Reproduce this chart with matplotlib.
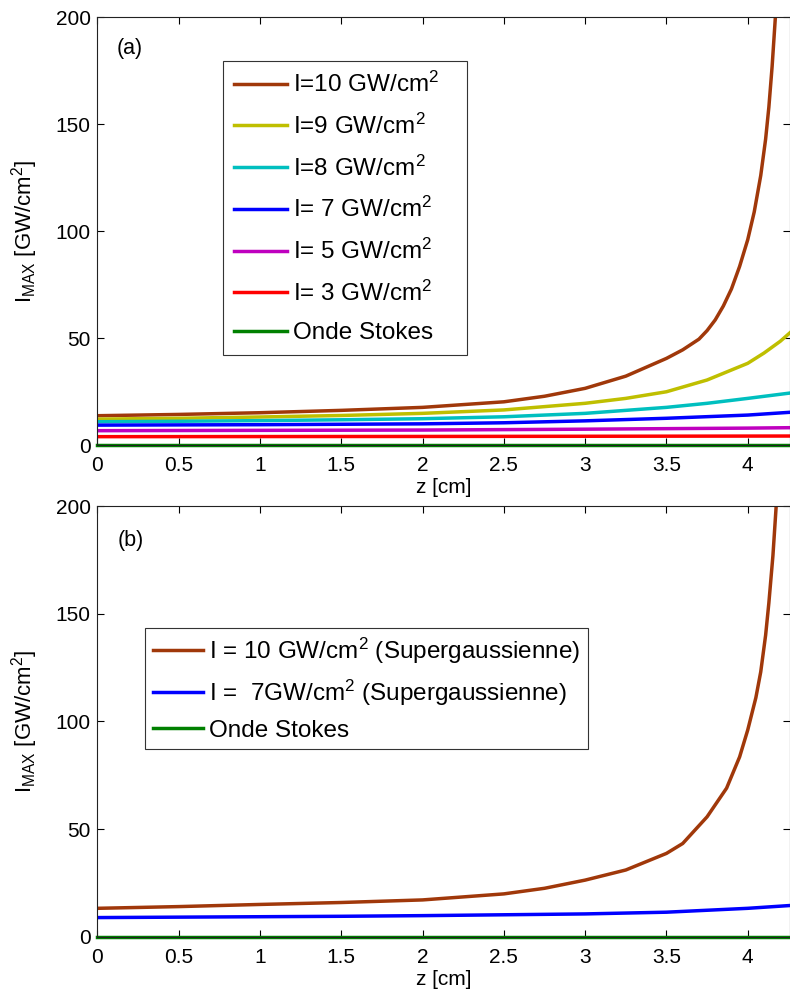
import numpy as np
import matplotlib.pyplot as plt

plt.rcParams['font.family'] = ['Liberation Sans', 'DejaVu Sans']
plt.rcParams['mathtext.default'] = 'regular'

# panel (a): maximum intensity along z for several input intensities
z10_a = [0, 0.5, 1, 1.5, 2, 2.5, 2.75, 3, 3.25, 3.5, 3.6, 3.7, 3.75, 3.8, 3.85, 3.9, 3.95,
         4.0, 4.04, 4.08, 4.11, 4.13, 4.15, 4.17, 4.2]
i10_a = [13.7, 14.3, 15.1, 16.2, 17.6, 20.2, 22.8, 26.5, 32.2, 40.5, 44.5, 49.5, 53.5, 58.5, 65, 73, 83.5,
         96, 109, 126, 143, 158, 177, 200, 235]
z9_a = [0, 0.5, 1, 1.5, 2, 2.5, 3, 3.25, 3.5, 3.75, 4.0, 4.1, 4.2, 4.26]
i9_a = [12.1, 12.5, 13.1, 13.8, 14.8, 16.4, 19.5, 21.8, 24.9, 30.4, 38.2, 43, 48.5, 52.5]
z8_a = [0, 0.5, 1, 1.5, 2, 2.5, 3, 3.5, 3.75, 4.0, 4.26]
i8_a = [10.9, 11.1, 11.4, 11.8, 12.3, 13.2, 14.8, 17.6, 19.5, 21.8, 24.3]
z7_a = [0, 1, 2, 2.5, 3, 3.5, 4.0, 4.26]
i7_a = [9.3, 9.5, 9.9, 10.4, 11.3, 12.5, 14.0, 15.3]
z5_a = [0, 2, 3, 4.0, 4.26]
i5_a = [6.7, 7.0, 7.4, 7.9, 8.1]
z3_a = [0, 2, 4.26]
i3_a = [3.9, 4.0, 4.2]
zs_a = [0, 4.26]
stokes_a = [0, 0]

# panel (b): supergaussian beams
z10_b = [0, 0.5, 1, 1.5, 2, 2.5, 2.75, 3, 3.25, 3.5, 3.6, 3.75, 3.87, 3.95, 4.0, 4.05, 4.08,
         4.11, 4.13, 4.155, 4.175, 4.2]
i10_b = [13.2, 14.0, 15.0, 15.9, 17.1, 19.9, 22.5, 26.3, 31, 38.7, 43.3, 55.7, 69, 83.5, 96, 111, 123,
         140, 155, 177, 200, 235]
z7_b = [0, 0.5, 1, 1.5, 2, 2.5, 3, 3.5, 4.0, 4.26]
i7_b = [8.9, 9.1, 9.3, 9.5, 9.8, 10.2, 10.6, 11.4, 13.2, 14.5]
zs_b = [0, 4.26]
stokes_b = [0, 0]

labels_a = ['I=10 GW/cm$^2$', 'I=9 GW/cm$^2$', 'I=8 GW/cm$^2$', 'I= 7 GW/cm$^2$',
            'I= 5 GW/cm$^2$', 'I= 3 GW/cm$^2$', 'Onde Stokes']
labels_b = ['I = 10 GW/cm$^2$ (Supergaussienne)', 'I =  7GW/cm$^2$ (Supergaussienne)', 'Onde Stokes']

brown = '#A0380A'
yellow = '#BFBF00'
cyan = '#00BFBF'
blue = '#0000FF'
magenta = '#BF00BF'
red = '#FF0000'
green = '#008000'

fig = plt.figure(figsize=(7.9, 9.92), dpi=100)
ax1 = fig.add_axes([0.1234, 0.5514, 0.8766, 0.4312])
ax2 = fig.add_axes([0.1234, 0.0557, 0.8766, 0.4342])

lw = 2.5
series_a = [(z10_a, i10_a), (z9_a, i9_a), (z8_a, i8_a), (z7_a, i7_a),
            (z5_a, i5_a), (z3_a, i3_a), (zs_a, stokes_a)]
colors_a = [brown, yellow, cyan, blue, magenta, red, green]
for (x, y), c, lab in zip(series_a, colors_a, labels_a):
    ax1.plot(x, y, color=c, lw=lw, label=lab, clip_on=(c != green))

series_b = [(z10_b, i10_b), (z7_b, i7_b), (zs_b, stokes_b)]
colors_b = [brown, blue, green]
for (x, y), c, lab in zip(series_b, colors_b, labels_b):
    ax2.plot(x, y, color=c, lw=lw, label=lab, clip_on=(c != green))

for ax in [ax1, ax2]:
    ax.set_xlim(0, 4.26)
    ax.set_ylim(0, 200)
    ax.set_xticks(np.arange(0, 4.01, 0.5))
    ax.set_xticklabels(['0', '0.5', '1', '1.5', '2', '2.5', '3', '3.5', '4'])
    ax.set_yticks([0, 50, 100, 150, 200])
    ax.tick_params(direction='in', top=True, right=True, labelsize=15, length=5, width=0.8)
    ax.tick_params(axis='x', pad=8)
    ax.tick_params(axis='y', pad=5)
    ax.set_xlabel('z [cm]', fontsize=15, labelpad=2)
    ax.set_ylabel('I$_{MAX}$ [GW/cm$^2$]', fontsize=16, labelpad=11)
    for s in ax.spines.values():
        s.set_linewidth(0.8)
        s.set_color('#222222')

ax1.text(0.12, 185.6, '(a)', fontsize=15.5, va='center')
ax2.text(0.126, 184, '(b)', fontsize=15.5, va='center')

leg1 = ax1.legend(loc='upper left', bbox_to_anchor=(0.1812, 0.8978, 0.3523, 0), mode='expand',
                  borderaxespad=0, fontsize=17.5, handlelength=2.18, handletextpad=0.25,
                  labelspacing=0.68, borderpad=0.45, fancybox=False, framealpha=1,
                  edgecolor='#333333')
leg1.get_frame().set_linewidth(0.8)

leg2 = ax2.legend(loc='upper left', bbox_to_anchor=(0.0683, 0.7167), borderaxespad=0,
                  fontsize=17.5, handlelength=2.06, handletextpad=0.25, labelspacing=0.48,
                  borderpad=0.32, fancybox=False, framealpha=1, edgecolor='#333333')
leg2.get_frame().set_linewidth(0.8)

fig.savefig('out.png', dpi=100)
